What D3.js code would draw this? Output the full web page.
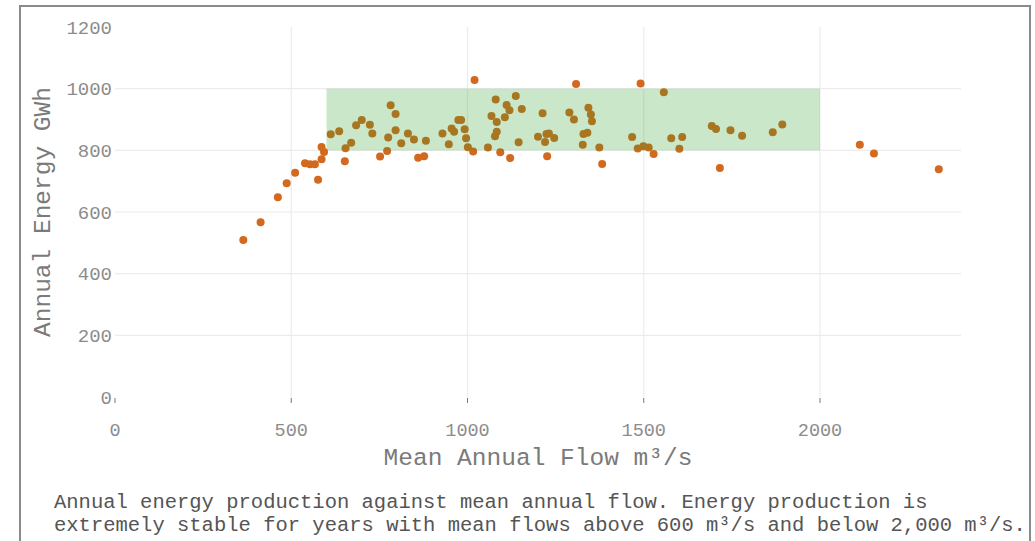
<!DOCTYPE html>
<html>
<head>
<meta charset="utf-8">
<script src="https://cdn.jsdelivr.net/npm/d3@7"></script>
<style>
  html, body { margin: 0; padding: 0; background: #fff; }
  svg { display: block; }
  text { font-family: "Liberation Mono", "DejaVu Sans Mono", monospace; }
</style>
</head>
<body>
<svg id="chart" width="1035" height="541"></svg>
<script>
// ---- data ----
const flows = [364,413,462,487,511,539,553,567,576,586,593,586,612,636,652,654,670,684,700,723,
  730,752,772,775,782,796,796,812,831,848,860,877,882,929,947,955,962,974,982,992,
  996,1001,1016,1020,1058,1068,1080,1083,1078,1083,1093,1106,1111,1119,1121,1137,1145,1154,1200,1213,
  1220,1226,1224,1231,1246,1289,1302,1308,1327,1329,1340,1343,1350,1353,1374,1382,1467,1483,1491,1499,
  1514,1528,1557,1578,1601,1609,1693,1705,1716,1746,1779,1866,1893,2113,2153,2337];
const energy = [509,567,648,693,727,758,755,755,705,771,795,811,852,862,765,807,825,881,898,883,
  855,780,798,842,946,918,865,823,855,835,776,781,831,855,820,871,860,898,898,868,
  839,810,796,1028,809,911,965,892,846,860,794,907,947,930,775,976,826,934,844,920,
  827,781,853,855,840,923,900,1015,818,853,857,938,916,894,809,756,843,806,1017,813,
  809,788,988,839,805,843,879,869,743,865,847,859,884,818,790,739];
const xTicks = [0,500,1000,1500,2000];
const yTicks = [0,200,400,600,800,1000,1200];
const stableBand = { x0: 600, x1: 2000, y0: 800, y1: 1000 };
const xTitle = "Mean Annual Flow m\u00B3/s";
const yTitle = "Annual Energy GWh";
const captionLines = [
  "Annual energy production against mean annual flow. Energy production is",
  "extremely stable for years with mean flows above 600 m\u00B3/s and below 2,000 m\u00B3/s."
];

// ---- layout ----
const svg = d3.select("#chart");
const x = d3.scaleLinear().domain([0, 2400]).range([115, 961]);
const y = d3.scaleLinear().domain([0, 1200]).range([397, 27]);

// frame
svg.append("rect").attr("x", 20).attr("y", 6).attr("width", 1010).attr("height", 560)
  .attr("fill", "none").attr("stroke", "#8a8a8a").attr("stroke-width", 2);

// grid
svg.append("g").selectAll("line").data(yTicks.filter(d => d > 0 && d < 1200)).join("line")
  .attr("x1", x(0)).attr("x2", x(2400)).attr("y1", d => y(d)).attr("y2", d => y(d))
  .attr("stroke", "#ececec").attr("stroke-width", 1.2);
svg.append("g").selectAll("line").data(xTicks.filter(d => d > 0)).join("line")
  .attr("x1", d => x(d)).attr("x2", d => x(d)).attr("y1", y(0)).attr("y2", y(1200))
  .attr("stroke", "#ececec").attr("stroke-width", 1.2);

// x ticks
svg.append("g").selectAll("line").data(xTicks).join("line")
  .attr("x1", d => x(d)).attr("x2", d => x(d)).attr("y1", y(0) + 1).attr("y2", y(0) + 6)
  .attr("stroke", "#777").attr("stroke-width", 1);
svg.append("g").selectAll("text").data(xTicks).join("text")
  .attr("x", d => x(d)).attr("y", 436).attr("text-anchor", "middle")
  .attr("font-size", 18.5).attr("fill", "#8c8c8c").text(d => d);

// y tick labels
svg.append("g").selectAll("text").data(yTicks).join("text")
  .attr("x", 112).attr("y", d => y(d)).attr("dy", "0.35em").attr("text-anchor", "end")
  .attr("font-size", 19).attr("fill", "#8c8c8c").text(d => d);

// points
const pts = flows.map((f, i) => ({ f, e: energy[i] }));
svg.append("g").selectAll("circle").data(pts).join("circle")
  .attr("cx", d => x(d.f)).attr("cy", d => y(d.e)).attr("r", 4)
  .attr("fill", "#d2691e");

// stable band overlay
svg.append("rect")
  .attr("x", x(stableBand.x0)).attr("y", y(stableBand.y1))
  .attr("width", x(stableBand.x1) - x(stableBand.x0))
  .attr("height", y(stableBand.y0) - y(stableBand.y1))
  .attr("fill", "#2ca02c").attr("fill-opacity", 0.25);

// axis titles
svg.append("text").attr("x", (x(0) + x(2400)) / 2).attr("y", 465).attr("text-anchor", "middle")
  .attr("font-size", 24.5).attr("fill", "#7a7a7a").text(xTitle);
svg.append("text").attr("transform", `translate(41,${(y(0) + y(1200)) / 2}) rotate(-90)`)
  .attr("text-anchor", "middle").attr("dy", "0.35em")
  .attr("font-size", 24.5).attr("fill", "#7a7a7a").text(yTitle);

// caption
svg.append("g").selectAll("text").data(captionLines).join("text")
  .attr("x", 54).attr("y", (d, i) => 508 + i * 22.5)
  .attr("font-size", 20.5).attr("fill", "#555").attr("xml:space", "preserve").text(d => d);
</script>
</body>
</html>
